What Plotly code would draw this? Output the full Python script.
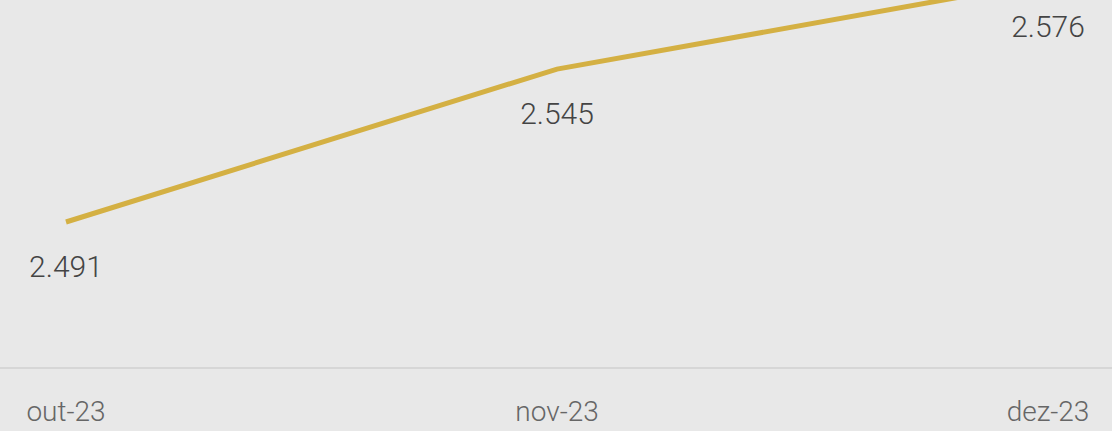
import plotly.graph_objects as go

# monthly values (pt-BR labels, dot as thousands separator)
months = ["out-23", "nov-23", "dez-23"]
values = [2.491, 2.545, 2.576]
value_labels = ["2.491", "2.545", "2.576"]

fig = go.Figure()

fig.add_trace(
    go.Scatter(
        x=months,
        y=values,
        mode="lines",
        line=dict(color="#D4B043", width=5, shape="linear"),
        hoverinfo="skip",
        showlegend=False,
    )
)

# value labels under each point; an invisible big marker pushes text down.
# Clipping stays on: the last point is above the range but its label falls
# inside the plot area, so it is still drawn.
fig.add_trace(
    go.Scatter(
        x=months,
        y=values,
        mode="markers+text",
        marker=dict(size=51, opacity=0),
        text=value_labels,
        textposition="bottom center",
        textfont=dict(size=30, color="#444444", family="Roboto", weight=300),
        cliponaxis=True,
        hoverinfo="skip",
        showlegend=False,
    )
)

fig.update_layout(
    width=1112,
    height=431,
    margin=dict(l=0, r=0, t=0, b=64),
    paper_bgcolor="#E8E8E8",
    plot_bgcolor="#E8E8E8",
    font=dict(family="Roboto", color="#666666", size=28),
    xaxis=dict(
        type="category",
        range=[-0.1344, 2.1303],
        showgrid=False,
        zeroline=False,
        showline=True,
        linecolor="#D6D6D6",
        linewidth=2,
        ticks="",
        tickfont=dict(size=28, color="#666666", family="Roboto", weight=300),
        ticklabelstandoff=18,
    ),
    yaxis=dict(
        range=[2.4398, 2.5694],
        visible=False,
        showgrid=False,
        zeroline=False,
    ),
)

# drop the default page margin so the chart fills the window
fig.write_html(
    "out.html",
    config={"displayModeBar": False},
    post_script="document.body.style.margin='0';",
)
